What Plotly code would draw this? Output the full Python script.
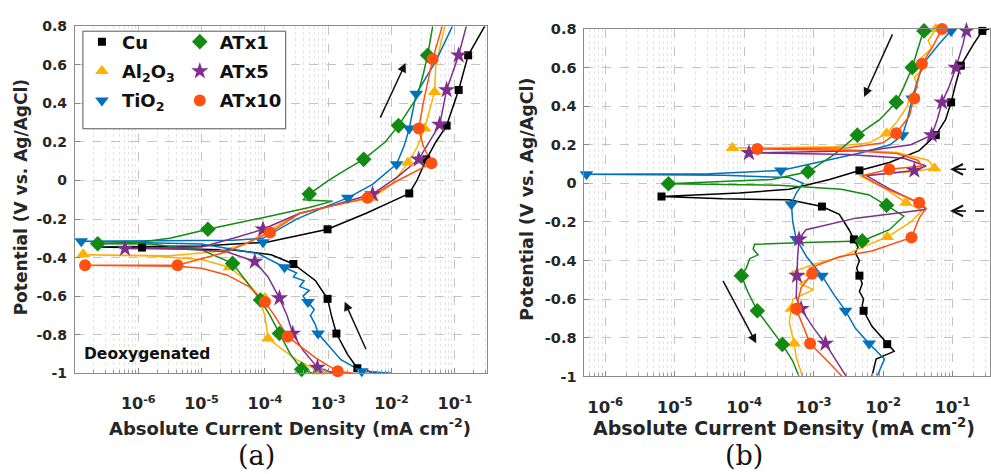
import plotly.graph_objects as go

# ---------------- DATA (log10 of current density in mA cm^-2, potential in V) ----------------
# Panel (a) - deoxygenated
cu_a_logi = [-2.06,-2.3,-2.54,-2.7,-2.87,-2.95,-3.01,-3.2,-3.55,-3.9,-4.5,-5.94,-6.6,-5.0,-3.97,-3.01,-2.4,-1.87,-1.72,-1.6,-1.45,-1.3,-1.13,-0.94,-0.79,-0.53]
cu_a_E = [-1.0,-0.995,-0.974,-0.9,-0.794,-0.7,-0.614,-0.52,-0.433,-0.385,-0.36,-0.348,-0.345,-0.34,-0.32,-0.253,-0.17,-0.09,-0.067,0.0,0.11,0.2,0.285,0.47,0.65,0.8]
cu_a_mk_logi = [-2.54,-2.87,-3.01,-3.55,-5.94,-3.01,-1.72,-1.45,-1.13,-0.94,-0.79]
cu_a_mk_E = [-0.974,-0.794,-0.614,-0.433,-0.348,-0.253,-0.067,0.11,0.285,0.47,0.65]

al_a_logi = [-2.9,-3.14,-3.5,-3.95,-4.0,-4.1,-4.3,-4.56,-5.0,-5.8,-6.87,-5.5,-4.8,-4.3,-4.0,-3.45,-2.93,-2.3,-2.0,-1.74,-1.6,-1.48,-1.37,-1.32,-1.3,-1.16]
al_a_E = [-1.0,-0.99,-0.93,-0.82,-0.7,-0.6,-0.52,-0.45,-0.41,-0.392,-0.385,-0.39,-0.37,-0.33,-0.27,-0.17,-0.13,-0.09,-0.02,0.093,0.17,0.27,0.4,0.46,0.6,0.8]
al_a_mk_logi = [-3.14,-3.95,-4.0,-4.56,-6.87,-2.3,-1.74,-1.48,-1.32]
al_a_mk_E = [-0.99,-0.82,-0.61,-0.45,-0.383,-0.09,0.093,0.27,0.46]

ti_a_logi = [-2.0,-2.47,-2.8,-3.16,-3.2,-3.28,-3.22,-3.32,-3.4,-3.3,-3.45,-3.38,-3.55,-3.5,-3.69,-4.1,-5.0,-6.9,-5.5,-4.5,-4.03,-3.5,-3.0,-2.69,-2.3,-1.92,-1.8,-1.72,-1.61,-1.3,-1.04]
ti_a_E = [-1.0,-0.99,-0.93,-0.794,-0.75,-0.7,-0.67,-0.63,-0.6,-0.57,-0.55,-0.52,-0.5,-0.48,-0.45,-0.38,-0.33,-0.315,-0.31,-0.31,-0.3,-0.2,-0.13,-0.09,-0.02,0.085,0.18,0.27,0.45,0.62,0.8]
ti_a_mk_logi = [-2.47,-3.16,-3.32,-3.69,-6.9,-4.03,-2.69,-1.92,-1.72,-1.61]
ti_a_mk_E = [-0.99,-0.794,-0.63,-0.45,-0.315,-0.32,-0.09,0.085,0.27,0.45]

at1_a_logi = [-3.25,-3.42,-3.6,-3.77,-3.92,-4.07,-4.3,-4.51,-5.0,-5.8,-6.64,-6.0,-5.5,-4.9,-4.0,-3.3,-2.93,-3.4,-3.3,-3.0,-2.7,-2.44,-2.1,-1.89,-1.6,-1.5,-1.43,-1.35]
at1_a_E = [-1.0,-0.98,-0.9,-0.794,-0.7,-0.62,-0.52,-0.43,-0.36,-0.33,-0.328,-0.32,-0.3,-0.253,-0.19,-0.14,-0.107,-0.1,-0.07,0.0,0.06,0.11,0.2,0.285,0.43,0.55,0.65,0.8]
at1_a_mk_logi = [-3.42,-3.77,-4.07,-4.51,-6.64,-4.9,-3.3,-2.44,-1.89,-1.43]
at1_a_mk_E = [-0.98,-0.794,-0.62,-0.43,-0.328,-0.253,-0.07,0.11,0.285,0.65]

at5_a_logi = [-2.9,-3.17,-3.4,-3.56,-3.65,-3.77,-3.95,-4.16,-4.6,-5.3,-6.21,-5.0,-4.5,-4.03,-3.45,-2.93,-2.3,-1.9,-1.57,-1.4,-1.24,-1.13,-0.94,-0.82]
at5_a_E = [-1.0,-0.97,-0.88,-0.794,-0.7,-0.61,-0.5,-0.42,-0.37,-0.355,-0.353,-0.345,-0.3,-0.253,-0.17,-0.13,-0.07,0.02,0.11,0.2,0.29,0.47,0.65,0.8]
at5_a_mk_logi = [-3.17,-3.56,-3.77,-4.16,-6.21,-4.03,-2.3,-1.57,-1.24,-1.13,-0.94]
at5_a_mk_E = [-0.97,-0.794,-0.61,-0.42,-0.353,-0.253,-0.07,0.11,0.29,0.47,0.65]

at10_a_logi = [-2.6,-2.85,-3.2,-3.64,-3.85,-4.0,-4.25,-4.6,-5.0,-5.38,-6.84,-5.38,-4.6,-3.92,-3.45,-2.93,-2.38,-1.9,-1.37,-1.5,-1.57,-1.5,-1.35,-1.2]
at10_a_E = [-1.0,-0.99,-0.92,-0.81,-0.7,-0.63,-0.55,-0.49,-0.455,-0.445,-0.44,-0.44,-0.37,-0.27,-0.17,-0.13,-0.09,0.0,0.09,0.18,0.27,0.4,0.63,0.8]
at10_a_mk_logi = [-2.85,-3.64,-4.0,-5.38,-6.84,-3.92,-2.38,-1.37,-1.57,-1.35]
at10_a_mk_E = [-0.99,-0.81,-0.63,-0.44,-0.44,-0.27,-0.09,0.09,0.27,0.63]

# Panel (b) - reverse scan
cu_b_logi = [-0.47,-0.57,-0.7,-0.88,-0.95,-1.02,-1.1,-1.24,-1.48,-1.91,-2.34,-2.77,-3.35,-4.07,-5.19,-4.31,-3.35,-2.88,-2.63,-2.49,-2.42,-2.36,-2.4,-2.34,-2.38,-2.34,-2.3,-2.34,-2.28,-2.3,-2.28,-2.16,-1.94,-1.84,-2.1,-2.16]
cu_b_E = [0.8,0.79,0.72,0.61,0.52,0.42,0.33,0.25,0.17,0.108,0.067,0.02,-0.03,-0.05,-0.068,-0.08,-0.085,-0.12,-0.16,-0.24,-0.29,-0.33,-0.36,-0.4,-0.44,-0.478,-0.52,-0.56,-0.6,-0.63,-0.66,-0.74,-0.833,-0.87,-0.91,-1.0]
cu_b_mk_logi = [-0.57,-0.88,-1.02,-1.24,-2.34,-5.19,-2.88,-2.42,-2.34,-2.28,-1.94]
cu_b_mk_E = [0.79,0.61,0.42,0.25,0.067,-0.068,-0.12,-0.29,-0.478,-0.66,-0.833]

al_b_logi = [-1.24,-1.35,-1.3,-1.45,-1.4,-1.55,-1.5,-1.62,-1.65,-1.8,-1.95,-2.2,-2.7,-4.17,-2.5,-1.8,-1.35,-1.26,-1.6,-2.34,-2.0,-1.67,-1.44,-1.6,-1.94,-2.3,-2.59,-3.0,-3.32,-3.0,-3.2,-3.0,-3.3,-3.32,-3.35,-3.28,-3.25,-3.16]
al_b_E = [0.8,0.74,0.7,0.65,0.6,0.55,0.5,0.45,0.4,0.32,0.258,0.21,0.19,0.183,0.175,0.16,0.12,0.078,0.06,0.04,-0.02,-0.1,-0.14,-0.2,-0.278,-0.33,-0.38,-0.42,-0.46,-0.48,-0.52,-0.55,-0.6,-0.65,-0.72,-0.83,-0.9,-1.0]
al_b_mk_logi = [-1.24,-1.95,-4.17,-1.26,-1.67,-1.94,-3.32,-3.28]
al_b_mk_E = [0.8,0.258,0.183,0.078,-0.1,-0.278,-0.65,-0.83]

ti_b_logi = [-1.0,-1.2,-1.4,-1.49,-1.58,-1.65,-1.72,-1.9,-2.3,-2.8,-3.47,-4.5,-6.27,-4.3,-3.35,-3.15,-3.25,-3.32,-3.3,-3.25,-3.1,-2.88,-2.7,-2.54,-2.4,-2.2,-1.98,-2.08]
ti_b_E = [0.8,0.72,0.63,0.55,0.44,0.33,0.25,0.2,0.16,0.12,0.067,0.05,0.048,0.042,0.03,0.0,-0.05,-0.108,-0.2,-0.288,-0.38,-0.478,-0.58,-0.66,-0.75,-0.83,-0.91,-0.995]
ti_b_mk_logi = [-1.02,-1.58,-1.72,-3.47,-6.27,-3.32,-3.25,-2.88,-2.54,-2.2]
ti_b_mk_E = [0.79,0.44,0.25,0.067,0.048,-0.108,-0.288,-0.478,-0.66,-0.83]

at1_b_logi = [-1.41,-1.5,-1.58,-1.7,-1.81,-2.05,-2.37,-2.7,-3.08,-3.6,-5.09,-3.5,-2.6,-2.2,-1.95,-1.7,-1.91,-2.3,-3.0,-3.85,-3.87,-3.8,-3.92,-3.97,-4.04,-3.95,-3.81,-3.6,-3.45,-3.3,-3.21]
at1_b_E = [0.8,0.7,0.6,0.5,0.42,0.33,0.25,0.15,0.06,0.02,-0.002,-0.01,-0.03,-0.06,-0.113,-0.17,-0.24,-0.298,-0.305,-0.315,-0.34,-0.37,-0.39,-0.44,-0.478,-0.56,-0.66,-0.76,-0.834,-0.92,-1.0]
at1_b_mk_logi = [-1.41,-1.58,-1.81,-2.37,-3.08,-5.09,-1.95,-2.3,-4.04,-3.81,-3.45]
at1_b_mk_E = [0.79,0.6,0.42,0.25,0.06,-0.002,-0.113,-0.298,-0.478,-0.66,-0.834]

at5_b_logi = [-0.8,-0.85,-0.95,-1.05,-1.15,-1.22,-1.3,-1.6,-2.2,-3.93,-2.5,-1.7,-1.38,-1.55,-2.24,-1.9,-1.5,-1.38,-2.39,-3.11,-3.21,-3.23,-3.24,-3.25,-3.18,-3.0,-2.83,-2.53]
at5_b_E = [0.8,0.72,0.6,0.5,0.42,0.33,0.25,0.2,0.17,0.158,0.15,0.13,0.09,0.067,0.04,-0.03,-0.1,-0.135,-0.18,-0.24,-0.29,-0.38,-0.478,-0.59,-0.65,-0.75,-0.83,-1.0]
at5_b_mk_logi = [-0.8,-0.95,-1.15,-1.3,-3.93,-1.55,-3.21,-3.24,-3.18,-2.83]
at5_b_mk_E = [0.79,0.6,0.42,0.25,0.158,0.067,-0.29,-0.478,-0.65,-0.83]

at10_b_logi = [-1.15,-1.3,-1.44,-1.5,-1.55,-1.62,-1.81,-2.0,-2.5,-3.81,-2.5,-1.8,-1.5,-1.44,-1.91,-2.3,-2.0,-1.6,-1.48,-1.38,-1.48,-1.59,-2.16,-2.63,-3.06,-3.02,-3.18,-3.25,-3.15,-3.05,-2.8,-2.59]
at10_b_E = [0.8,0.7,0.62,0.53,0.44,0.35,0.26,0.21,0.185,0.178,0.17,0.155,0.12,0.09,0.073,0.04,-0.02,-0.08,-0.1,-0.13,-0.18,-0.28,-0.35,-0.38,-0.44,-0.468,-0.54,-0.65,-0.74,-0.83,-0.92,-1.0]
at10_b_mk_logi = [-1.15,-1.44,-1.55,-1.81,-3.81,-1.91,-1.48,-1.59,-3.02,-3.25,-3.05]
at10_b_mk_E = [0.8,0.62,0.44,0.26,0.178,0.073,-0.1,-0.28,-0.468,-0.65,-0.83]

x_tick_vals = [1e-6, 1e-5, 1e-4, 1e-3, 1e-2, 1e-1]
x_tick_text = ["10<sup>-6</sup>", "10<sup>-5</sup>", "10<sup>-4</sup>", "10<sup>-3</sup>", "10<sup>-2</sup>", "10<sup>-1</sup>"]
y_tick_vals = [-1, -0.8, -0.6, -0.4, -0.2, 0, 0.2, 0.4, 0.6, 0.8]
y_tick_text = ["-1", "-0.8", "-0.6", "-0.4", "-0.2", "0", "0.2", "0.4", "0.6", "0.8"]

# ---------------- STYLE ----------------
W, H = 991, 474
FONT = "DejaVu Sans"
series = [
    # name, legend label, color, symbol, size, legend id
    ("Cu", "<b>Cu</b>", "#000000", "square", 8, "legend",
     cu_a_logi, cu_a_E, cu_a_mk_logi, cu_a_mk_E, cu_b_logi, cu_b_E, cu_b_mk_logi, cu_b_mk_E),
    ("Al2O3", "<b>Al<sub>2</sub>O<sub>3</sub></b>", "#FFB000", "triangle-up", 12, "legend",
     al_a_logi, al_a_E, al_a_mk_logi, al_a_mk_E, al_b_logi, al_b_E, al_b_mk_logi, al_b_mk_E),
    ("TiO2", "<b>TiO<sub>2</sub></b>", "#0072BD", "triangle-down", 12, "legend",
     ti_a_logi, ti_a_E, ti_a_mk_logi, ti_a_mk_E, ti_b_logi, ti_b_E, ti_b_mk_logi, ti_b_mk_E),
    ("ATx1", "<b>ATx1</b>", "#138A13", "diamond", 12, "legend2",
     at1_a_logi, at1_a_E, at1_a_mk_logi, at1_a_mk_E, at1_b_logi, at1_b_E, at1_b_mk_logi, at1_b_mk_E),
    ("ATx5", "<b>ATx5</b>", "#7E2F8E", "star", 13, "legend2",
     at5_a_logi, at5_a_E, at5_a_mk_logi, at5_a_mk_E, at5_b_logi, at5_b_E, at5_b_mk_logi, at5_b_mk_E),
    ("ATx10", "<b>ATx10</b>", "#FF5212", "circle", 12, "legend2",
     at10_a_logi, at10_a_E, at10_a_mk_logi, at10_a_mk_E, at10_b_logi, at10_b_E, at10_b_mk_logi, at10_b_mk_E),
]


def cur(logs):
    return [10.0 ** v for v in logs]


fig = go.Figure()
for s in series:
    name, label, color, sym, size, leg = s[:6]
    a_l, a_e, a_ml, a_me, b_l, b_e, b_ml, b_me = s[6:]
    for (xa, ya, ll, ee) in (("x", "y", a_l, a_e), ("x2", "y2", b_l, b_e)):
        fig.add_trace(go.Scatter(x=cur(ll), y=ee, mode="lines", xaxis=xa, yaxis=ya,
                                 line=dict(color=color, width=1.5), showlegend=False, hoverinfo="skip"))
for s in series:
    name, label, color, sym, size, leg = s[:6]
    a_l, a_e, a_ml, a_me, b_l, b_e, b_ml, b_me = s[6:]
    for (xa, ya, ml, me) in (("x", "y", a_ml, a_me), ("x2", "y2", b_ml, b_me)):
        fig.add_trace(go.Scatter(x=cur(ml), y=me, mode="markers", xaxis=xa, yaxis=ya,
                                 marker=dict(color=color, symbol=sym, size=size, line=dict(width=0)),
                                 cliponaxis=False, showlegend=False, hoverinfo="skip"))
# legend-only entries (markers only, as in the reference legend)
for s in series:
    name, label, color, sym, size, leg = s[:6]
    fig.add_trace(go.Scatter(x=[None], y=[None], mode="markers", name=label, legend=leg,
                             legendgroup=name, xaxis="x", yaxis="y",
                             marker=dict(color=color, symbol=sym, size=size, line=dict(width=0))))

minor_vals = [m * 10.0 ** e for e in range(-8, 0) for m in range(2, 10)]


def xaxis_cfg(domain, rng, anchor, fsize):
    return dict(type="log", domain=domain, range=rng, anchor=anchor,
                tickvals=x_tick_vals, ticktext=x_tick_text,
                tickfont=dict(family=FONT, size=fsize, color="#262626", weight="bold"),
                ticks="inside", ticklen=5, tickcolor="#888", ticklabelstandoff=16,
                showgrid=True, gridcolor="#c4c4c4", griddash="dash", gridwidth=1,
                minor=dict(tickvals=minor_vals, ticks="inside", ticklen=3, tickcolor="#999",
                           showgrid=True, gridcolor="#e4e4e4", griddash="dot", gridwidth=1),
                showline=True, linecolor="#8a8a8a", linewidth=1, mirror=True, zeroline=False)


def yaxis_cfg(domain, anchor, fsize):
    return dict(domain=domain, range=[-1, 0.8], anchor=anchor,
                tickvals=y_tick_vals, ticktext=y_tick_text,
                tickfont=dict(family=FONT, size=fsize, color="#262626", weight="bold"),
                ticks="inside", ticklen=5, tickcolor="#888", ticklabelstandoff=4,
                showgrid=True, gridcolor="#c4c4c4", griddash="dash", gridwidth=1,
                showline=True, linecolor="#8a8a8a", linewidth=1, mirror=True, zeroline=False)


def px(x):
    return x / W


def py(y):
    return 1 - y / H


fig.update_layout(
    width=W, height=H, margin=dict(l=0, r=0, t=0, b=0),
    paper_bgcolor="white", plot_bgcolor="white",
    xaxis=xaxis_cfg([px(75), px(487)], [-7, -0.5], "y", 16),
    yaxis=yaxis_cfg([py(378), py(19)], "x", 14),
    xaxis2=xaxis_cfg([px(585), 1.0], [-6.3, -0.46], "y2", 16.5),
    yaxis2=yaxis_cfg([py(381.3), py(21.7)], "x2", 14.5),
    legend=dict(x=px(82), y=py(16), xanchor="left", yanchor="top", bgcolor="rgba(0,0,0,0)",
                borderwidth=0, font=dict(family=FONT, size=18, color="#111"),
                tracegroupgap=3, itemsizing="trace"),
    legend2=dict(x=px(180), y=py(16), xanchor="left", yanchor="top", bgcolor="rgba(0,0,0,0)",
                 borderwidth=0, font=dict(family=FONT, size=18, color="#111"),
                 tracegroupgap=3, itemsizing="trace"),
    showlegend=True,
)

shapes = [
    dict(type="rect", xref="paper", yref="paper", x0=px(83), x1=px(286), y0=py(125), y1=py(24),
         fillcolor="white", line=dict(color="#555", width=1), layer="above"),
    dict(type="line", xref="paper", yref="paper", x0=px(958), x1=1.0, y0=py(167), y1=py(167),
         line=dict(color="black", width=1.5, dash="dash"), layer="above"),
    dict(type="line", xref="paper", yref="paper", x0=px(958), x1=1.0, y0=py(210), y1=py(210),
         line=dict(color="black", width=1.5, dash="dash"), layer="above"),
]
fig.update_layout(shapes=shapes)

bold = dict(family=FONT, color="#262626", weight="bold")
ann = [
    dict(text="Absolute Current Density (mA cm<sup>-2</sup>)", x=px(290), y=py(434), xref="paper", yref="paper",
         showarrow=False, font=dict(size=18, **bold), xanchor="center", yanchor="middle"),
    dict(text="Absolute Current Density (mA cm<sup>-2</sup>)", x=px(785), y=py(434), xref="paper", yref="paper",
         showarrow=False, font=dict(size=19, **bold), xanchor="center", yanchor="middle"),
    dict(text="Potential (V vs. Ag/AgCl)", x=px(21), y=py(196), xref="paper", yref="paper", textangle=-90,
         showarrow=False, font=dict(size=17, **bold), xanchor="center", yanchor="middle"),
    dict(text="Potential (V vs. Ag/AgCl)", x=px(528), y=py(198), xref="paper", yref="paper", textangle=-90,
         showarrow=False, font=dict(size=17.5, **bold), xanchor="center", yanchor="middle"),
    dict(text="Deoxygenated", x=px(82), y=py(358), xref="paper", yref="paper",
         showarrow=False, font=dict(size=15.5, family=FONT, color="#111", weight="bold"),
         xanchor="left", yanchor="middle"),
    dict(text="(a)", x=px(257), y=py(463), xref="paper", yref="paper", showarrow=False,
         font=dict(family="DejaVu Serif", size=27, color="#111"), xanchor="center", yanchor="middle"),
    dict(text="(b)", x=px(745), y=py(463), xref="paper", yref="paper", showarrow=False,
         font=dict(family="DejaVu Serif", size=27, color="#111"), xanchor="center", yanchor="middle"),
]
# solid scan-direction arrows (head position, tail offset in px)
for hx, hy, ax, ay in [(406, 57, -26, 56), (345, 304, 22, 49), (865, 92, 29, -64), (757, 347, -34, -64)]:
    ann.append(dict(text="", x=px(hx), y=py(hy), xref="paper", yref="paper", showarrow=True,
                    ax=ax, ay=ay, arrowhead=2, arrowsize=1.2, arrowwidth=1.5, arrowcolor="#111", standoff=0))
# dashed arrows heads (peaks)
for hy in (167, 210):
    ann.append(dict(text="", x=px(951), y=py(hy), xref="paper", yref="paper", showarrow=True,
                    ax=12, ay=0, arrowhead=5, arrowsize=1.4, arrowwidth=1.5, arrowcolor="#111", standoff=0))
fig.update_layout(annotations=ann)

fig.write_html("out.html")
